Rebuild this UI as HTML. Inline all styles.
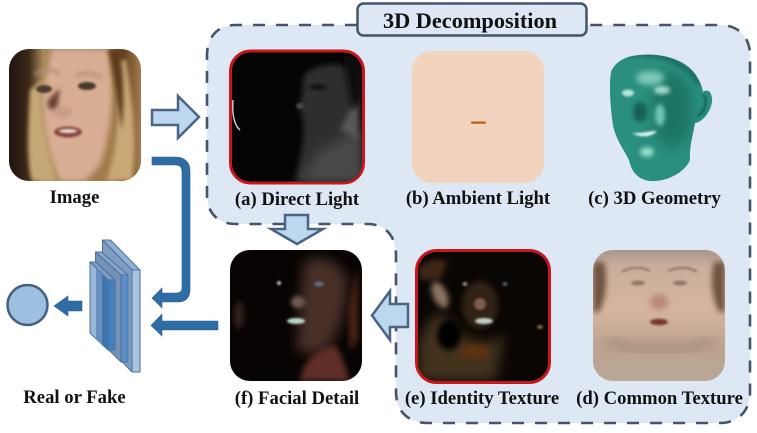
<!DOCTYPE html>
<html><head><meta charset="utf-8"><style>
html,body{margin:0;padding:0;background:#fff;width:757px;height:433px;overflow:hidden}
svg{display:block}
text{font-family:"Liberation Serif",serif;font-weight:bold;fill:#111;text-anchor:middle}
</style></head><body>
<svg width="757" height="433" viewBox="0 0 757 433" xmlns="http://www.w3.org/2000/svg">
<defs>
<filter id="b1" x="-30%" y="-30%" width="160%" height="160%"><feGaussianBlur stdDeviation="1"/></filter>
<filter id="b2" x="-40%" y="-40%" width="180%" height="180%"><feGaussianBlur stdDeviation="2"/></filter>
<filter id="b3" x="-40%" y="-40%" width="180%" height="180%"><feGaussianBlur stdDeviation="3"/></filter>
<filter id="b6" x="-50%" y="-50%" width="200%" height="200%"><feGaussianBlur stdDeviation="6"/></filter>
<clipPath id="c0"><rect x="9" y="49" width="132" height="132" rx="20"/></clipPath>
<clipPath id="ca"><rect x="232" y="53" width="130" height="129" rx="18"/></clipPath>
<clipPath id="cf"><rect x="230" y="250" width="132" height="131" rx="20"/></clipPath>
<clipPath id="ce"><rect x="418" y="252" width="130" height="129" rx="18"/></clipPath>
<clipPath id="cd"><rect x="593" y="250" width="132" height="131" rx="20"/></clipPath>
<clipPath id="cg"><path d="M611 72C615 62 625 56 640 55C660 53 680 58 692 70C698 77 702 85 703 92C706 89 711 90 712 98C713 108 704 122 695 123C693 135 689 148 690 160C686 170 672 180 655 181C642 182 632 175 629 160C624 150 615 138 613 125C610 105 609 85 611 72Z"/></clipPath>
<linearGradient id="g0" x1="0" x2="1" y1="0" y2="0"><stop offset="0" stop-color="#1f1510"/><stop offset=".15" stop-color="#3b2818"/><stop offset=".26" stop-color="#a98758"/><stop offset=".78" stop-color="#a17a48"/><stop offset=".86" stop-color="#5e3d1e"/><stop offset="1" stop-color="#a47c4e"/></linearGradient>
<linearGradient id="gd" x1="0" x2="0" y1="0" y2="1"><stop offset="0" stop-color="#a8958a"/><stop offset=".12" stop-color="#c9ad9c"/><stop offset=".45" stop-color="#d6b5a0"/><stop offset=".75" stop-color="#bda490"/><stop offset="1" stop-color="#b9a696"/></linearGradient>
</defs>

<!-- region -->
<path d="M357 25H235C218 25 207 37 207 55V195C207 213 218 224 236 224H368C385 224 396 236 396 255V392C396 411 408 423 428 423H720C738 423 750 411 750 392V55C750 37 738 25 720 25H586Z" fill="#dde8f4" stroke="#44546a" stroke-width="2.600" stroke-dasharray="12 11"/>

<!-- title -->
<rect x="357.500" y="3.500" width="229" height="32" rx="6" fill="#dde8f4" stroke="#44546a" stroke-width="2.500"/>
<text x="470" y="28" font-size="22.300">3D Decomposition</text>

<!-- source image -->
<g clip-path="url(#c0)">
<rect x="9" y="49" width="132" height="132" fill="url(#g0)"/>
<path d="M52 49H108C116 90 112 130 100 165L85 181H60C52 165 42 130 42 95Z" fill="#d8ae94" filter="url(#b3)"/>
<path d="M30 90C28 130 26 160 32 181H56C48 150 40 125 42 80Z" fill="#c6a874" filter="url(#b2)"/>
<path d="M113 60C118 110 118 150 106 181H132C138 140 132 100 126 60Z" fill="#c9a874" filter="url(#b2)"/>
<path d="M108 49H120C124 80 124 100 122 130C116 100 114 75 108 49Z" fill="#5e3b1c" filter="url(#b2)"/>
<path d="M48 100L60 88L57 112L48 108Z" fill="#6b4232" filter="url(#b2)"/>
<ellipse cx="87" cy="86" rx="9" ry="4" fill="#4a3a2c" filter="url(#b1)"/>
<ellipse cx="44" cy="89" rx="8" ry="4" fill="#4f3e30" filter="url(#b1)"/>
<path d="M35 74Q50 66 60 74M75 76Q90 70 102 78" fill="none" stroke="#b08f76" stroke-width="3" filter="url(#b2)"/>
<ellipse cx="68" cy="132" rx="14" ry="5.500" fill="#8b473f" filter="url(#b1)"/>
<ellipse cx="68" cy="131" rx="9" ry="2" fill="#e9dcd0" filter="url(#b1)"/>
<ellipse cx="62" cy="112" rx="10" ry="6" fill="#c99c87" filter="url(#b2)"/>
</g>

<!-- a -->
<rect x="230.500" y="51" width="133" height="132" rx="20" fill="#040404" stroke="#c8161d" stroke-width="3"/>
<g clip-path="url(#ca)">
<path d="M304 75C320 62 345 60 358 75L362 182H296C300 150 308 135 300 108Z" fill="#2e2e2e" filter="url(#b3)"/>
<path d="M320 150L362 130V182H298Z" fill="#484848" filter="url(#b6)"/>
<path d="M340 130L358 95V140Z" fill="#585858" filter="url(#b3)"/>
<path d="M343 56H362V100L352 110Z" fill="#0c0c0c" filter="url(#b3)"/>
<ellipse cx="318" cy="87" rx="9" ry="3" fill="#161616" filter="url(#b1)"/>
<ellipse cx="300" cy="106" rx="4" ry="3" fill="#4a4a4a" filter="url(#b1)"/>
<path d="M233 100C232 115 234 125 240 130" fill="none" stroke="#ccc" stroke-width="1.500"/>
</g>

<!-- b -->
<rect x="412" y="51" width="132" height="132" rx="20" fill="#f2d3bd"/>
<rect x="471" y="121.500" width="15" height="2.200" rx="1" fill="#bf5c14"/>

<!-- c -->
<path d="M611 72C615 62 625 56 640 55C660 53 680 58 692 70C698 77 702 85 703 92C706 89 711 90 712 98C713 108 704 122 695 123C693 135 689 148 690 160C686 170 672 180 655 181C642 182 632 175 629 160C624 150 615 138 613 125C610 105 609 85 611 72Z" fill="#2a8f7d"/>
<g clip-path="url(#cg)">
<ellipse cx="672" cy="110" rx="20" ry="38" fill="#1c7464" filter="url(#b6)"/>
<ellipse cx="650" cy="78" rx="14" ry="7" fill="#7cc9b7" filter="url(#b3)"/>
<ellipse cx="628" cy="93" rx="6" ry="3.500" fill="#b4e4d8" filter="url(#b1)"/>
<ellipse cx="662" cy="90" rx="8" ry="4" fill="#a8dfd1" filter="url(#b2)"/>
<ellipse cx="640" cy="112" rx="7" ry="10" fill="#136053" filter="url(#b2)"/>
<ellipse cx="660" cy="115" rx="5" ry="11" fill="#6fc6b1" filter="url(#b2)"/>
<path d="M632 133C640 134 650 131 657 131C652 137 640 138 632 133Z" fill="#eef9f5" filter="url(#b1)"/>
<ellipse cx="647" cy="152" rx="7" ry="5" fill="#8fd8c6" filter="url(#b2)"/>
<path d="M625 55C660 50 690 65 700 85" fill="none" stroke="#15594c" stroke-width="3" filter="url(#b2)"/>
<path d="M703 95C708 98 706 110 698 116" fill="none" stroke="#15594c" stroke-width="2" filter="url(#b1)"/>
</g>

<!-- d -->
<g clip-path="url(#cd)">
<rect x="593" y="250" width="132" height="131" fill="url(#gd)"/>
<path d="M593 262H604C608 280 606 298 599 312H593Z" fill="#6e5240" filter="url(#b3)"/>
<path d="M725 262H714C710 280 712 298 719 312H725Z" fill="#6e5240" filter="url(#b3)"/>
<path d="M622 272C632 266 642 267 650 271M668 271C678 267 688 266 697 272" fill="none" stroke="#8a6c58" stroke-width="1.800" filter="url(#b1)"/>
<ellipse cx="638" cy="283" rx="7" ry="2.500" fill="#927967" filter="url(#b1)"/>
<ellipse cx="680" cy="283" rx="7" ry="2.500" fill="#927967" filter="url(#b1)"/>
<ellipse cx="659" cy="302" rx="9" ry="8" fill="#b9897a" filter="url(#b3)"/>
<ellipse cx="659" cy="322" rx="9" ry="3.200" fill="#7c3532" filter="url(#b1)"/>
<path d="M605 340C630 352 690 352 715 340" fill="none" stroke="#a18c79" stroke-width="8" filter="url(#b6)"/>
</g>

<!-- e -->
<rect x="416.500" y="250.500" width="133" height="132" rx="20" fill="#0a0604" stroke="#c8161d" stroke-width="3"/>
<g clip-path="url(#ce)">
<path d="M418 345C428 315 440 305 452 325C470 345 490 345 505 335L495 381H418Z" fill="#42301f" filter="url(#b6)"/>
<path d="M418 268C430 258 440 258 448 262L440 280H420Z" fill="#3d2712" filter="url(#b3)"/>
<ellipse cx="440" cy="295" rx="7" ry="14" fill="#8c7360" filter="url(#b3)" transform="rotate(-25 440 295)"/>
<ellipse cx="449" cy="335" rx="12" ry="15" fill="#060403" filter="url(#b3)"/>
<ellipse cx="480" cy="305" rx="18" ry="24" fill="#332219" filter="url(#b3)"/>
<ellipse cx="480" cy="304" rx="6" ry="6" fill="#7d5d50" filter="url(#b1)"/>
<ellipse cx="484" cy="321" rx="9" ry="3" fill="#c0d0c8" filter="url(#b1)"/>
<ellipse cx="475" cy="352" rx="14" ry="7" fill="#5f3210" filter="url(#b3)"/>
<ellipse cx="465" cy="284" rx="2.500" ry="2" fill="#9b9080" filter="url(#b1)"/>
<ellipse cx="505" cy="284" rx="2.500" ry="2" fill="#55606a" filter="url(#b1)"/>
<ellipse cx="540" cy="327" rx="3" ry="2" fill="#7d6a50" filter="url(#b1)"/>
</g>

<!-- f -->
<rect x="230" y="250" width="132" height="131" rx="20" fill="#070403"/>
<g clip-path="url(#cf)">
<path d="M305 260C325 255 345 262 348 285C345 320 335 345 320 355L296 350C300 320 300 290 305 260Z" fill="#4a2d25" filter="url(#b6)"/>
<path d="M300 381C305 355 320 350 335 345C345 360 345 370 350 381Z" fill="#5f2f26" filter="url(#b3)"/>
<ellipse cx="298" cy="302" rx="7" ry="6" fill="#6f5a50" filter="url(#b2)"/>
<ellipse cx="296" cy="321" rx="9" ry="3" fill="#b8d8c8" filter="url(#b1)"/>
<ellipse cx="319" cy="284" rx="5" ry="2.500" fill="#5a7085" filter="url(#b1)"/>
<ellipse cx="279" cy="283" rx="2" ry="2" fill="#c5c5b8" filter="url(#b1)"/>
<ellipse cx="239" cy="315" rx="5" ry="14" fill="#30241a" filter="url(#b3)"/>
<path d="M348 310L358 265V340L350 350Z" fill="#4a2412" filter="url(#b3)"/>
</g>

<!-- hollow arrows -->
<path d="M152 110H178V96L199 117L178 138V125H152Z" fill="#bdd7ee" stroke="#4a6484" stroke-width="2.500"/>
<path d="M285 215H308V229H323L297 244L271 229H285Z" fill="#bdd7ee" stroke="#4a6484" stroke-width="2.500"/>
<path d="M408 304V327H390V340L372 315.500L390 291V304Z" fill="#bdd7ee" stroke="#4a6484" stroke-width="2.500"/>

<!-- solid arrows -->
<path d="M152 157H176C185 157 190 163 190 171V290C190 298 185 302 178 302H162V308L152 298L162 288V293H176C180 293 182 291 182 288V172C182 167 180 165 175 165H152Z" fill="#2e6da4" stroke="#2f5f8f" stroke-width=".6"/>
<path d="M218 321V330H162V336L151 325.500L162 314V321Z" fill="#2e6da4" stroke="#2f5f8f" stroke-width=".6"/>
<path d="M82 301V311H68V316L54 306L68 296V301Z" fill="#2e6da4" stroke="#2f5f8f" stroke-width=".6"/>

<!-- circle -->
<circle cx="27.500" cy="305" r="20" fill="#9dbfe0" stroke="#44607f" stroke-width="2.500"/>

<!-- layers -->
<g stroke="#4f6f96" stroke-width="1" stroke-linejoin="round">
<path d="M102.500 240H110.500L140 270H132Z" fill="#8fb0d6"/>
<path d="M132 270H140V372H132Z" fill="#a9c4e2"/>
<path d="M102.500 240L132 270V372L102.500 342Z" fill="#7f9dc0"/>
<path d="M95.500 252H101.500L128 275H121Z" fill="#86a6cd"/>
<path d="M121 275H128V362H121Z" fill="#5b8fc5"/>
<path d="M95.500 252L121 275V362L95.500 337Z" fill="#7592b6"/>
<path d="M90 262H96L115 280H108Z" fill="#7a9cc7"/>
<path d="M108 280H115V350H108Z" fill="#3f80bd"/>
<path d="M90 262L108 280V350L90 333Z" fill="#9ab8da"/>
<path d="M96 268L108 280V350L96 339Z" fill="#6690c0" stroke="none"/>
<path d="M102 274L108 280V350L102 345Z" fill="#3f75ab" stroke="none"/>
</g>

<!-- labels -->
<g font-size="18.700">
<text x="74.500" y="203">Image</text>
<text x="297" y="205">(a) Direct Light</text>
<text x="478" y="204">(b) Ambient Light</text>
<text x="654.500" y="204">(c) 3D Geometry</text>
<text x="74.500" y="403">Real or Fake</text>
<text x="297" y="404">(f) Facial Detail</text>
<text x="482" y="404">(e) Identity Texture</text>
<text x="659.500" y="404">(d) Common Texture</text>
</g>
</svg>
</body></html>
